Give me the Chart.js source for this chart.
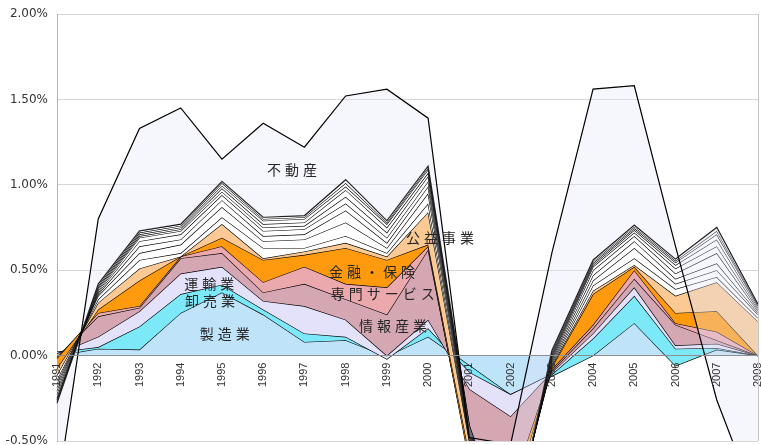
<!DOCTYPE html>
<html>
<head>
<meta charset="utf-8">
<script src="https://cdn.jsdelivr.net/npm/chart.js@4.4.1/dist/chart.umd.min.js"></script>
<style>
  html, body { margin: 0; padding: 0; background: #fff; }
  #wrap { width: 761px; height: 445px; }
</style>
</head>
<body>
<div id="wrap"><canvas id="myChart"></canvas></div>
<script>
// years on the category axis
var years = ['1991', '1992', '1993', '1994', '1995', '1996', '1997', '1998', '1999',
             '2000', '2001', '2002', '2003', '2004', '2005', '2006', '2007', '2008'];

// contribution of each industry (% points), stacked bottom to top
var seizo   = [0.00, 0.04, 0.035, 0.25, 0.37, 0.24, 0.08, 0.09, -0.005, 0.11, -0.06, -0.23, -0.12, 0.00, 0.19, -0.06, 0.035, 0.00]; // 製造業
var oroshi  = [0.02, 0.01, 0.135, 0.11, 0.045, 0.03, 0.05, 0.02, -0.015, 0.05, -0.04, 0.00, 0.01, 0.10, 0.16, 0.10, 0.01, 0.00];  // 卸売業
var unyu    = [-0.01, 0.06, 0.09, 0.12, 0.105, 0.05, 0.16, 0.10, 0.02, 0.05, -0.10, -0.13, 0.01, 0.03, 0.05, 0.02, 0.025, 0.00];  // 運輸業
var joho    = [-0.02, 0.12, 0.02, 0.09, 0.08, 0.05, 0.13, 0.12, 0.24, 0.41, -0.40, -0.44, 0.01, 0.03, 0.05, 0.12, 0.02, 0.00];    // 情報産業
var senmon  = [-0.01, 0.02, 0.01, 0.01, 0.04, 0.06, 0.10, 0.09, 0.16, 0.02, -0.02, 0.00, 0.01, 0.02, 0.05, 0.01, 0.05, 0.00];    // 専門サービス
var kinyu   = [-0.06, 0.02, 0.15, 0.00, 0.05, 0.13, 0.07, 0.21, 0.16, 0.01, 0.04, -0.10, 0.01, 0.18, 0.02, 0.06, 0.12, 0.00];    // 金融・保険
var koeki   = [-0.04, 0.04, 0.07, 0.00, 0.08, 0.01, 0.02, 0.03, 0.02, 0.19, 0.08, -0.10, 0.01, 0.02, 0.01, 0.10, 0.17, 0.20];    // 公益事業
// unlabelled industries (white bands)
var other1  = [-0.03, 0.02, 0.05, 0.02, 0.04, 0.06, 0.02, 0.04, 0.02, 0.05, 0.01, -0.02, 0.01, 0.03, 0.04, 0.04, 0.03, 0.02];
var other2  = [-0.02, 0.02, 0.04, 0.05, 0.06, 0.04, 0.05, 0.08, 0.03, 0.06, 0.01, -0.01, 0.01, 0.03, 0.06, 0.03, 0.04, 0.02];
var other3  = [-0.02, 0.01, 0.04, 0.03, 0.04, 0.03, 0.03, 0.07, 0.03, 0.04, 0.01, -0.01, 0.01, 0.03, 0.04, 0.03, 0.04, 0.01];
var other4  = [-0.02, 0.01, 0.03, 0.03, 0.03, 0.03, 0.03, 0.04, 0.03, 0.03, 0.01, -0.01, 0.01, 0.03, 0.03, 0.03, 0.06, 0.01];
var other5  = [-0.02, 0.01, 0.02, 0.02, 0.02, 0.02, 0.02, 0.04, 0.03, 0.03, 0.01, -0.01, 0.01, 0.02, 0.02, 0.03, 0.04, 0.01];
var other6  = [-0.02, 0.01, 0.01, 0.01, 0.02, 0.02, 0.02, 0.04, 0.03, 0.02, 0.01, -0.01, 0.01, 0.01, 0.015, 0.02, 0.04, 0.01];
var other7  = [-0.01, 0.01, 0.01, 0.01, 0.015, 0.02, 0.02, 0.02, 0.02, 0.02, 0.01, -0.01, 0.01, 0.01, 0.01, 0.015, 0.03, 0.01];
var other8  = [-0.01, 0.01, 0.01, 0.01, 0.015, 0.01, 0.01, 0.02, 0.01, 0.01, 0.01, -0.01, 0.01, 0.01, 0.01, 0.01, 0.02, 0.005];
var other9  = [-0.01, 0.01, 0.01, 0.01, 0.01, 0.01, 0.01, 0.02, 0.01, 0.01, 0.01, -0.01, 0.01, 0.01, 0.01, 0.01, 0.02, 0.005];
var fudosan = [-0.53, 0.38, 0.60, 0.68, 0.13, 0.55, 0.40, 0.49, 0.77, 0.28, -0.07, 0.58, 0.57, 1.00, 0.815, 0.075, -1.01, -1.19]; // 不動産

var yTicks = [-0.5, 0, 0.5, 1.0, 1.5, 2.0];

// text written inside the areas (x = year index, y = value)
var areaLabels = [
  { text: '不動産', x: 5.70, y: 1.09 },
  { text: '公益事業', x: 9.29, y: 0.69 },
  { text: '金融・保険', x: 7.64, y: 0.49 },
  { text: '専門サービス', x: 7.90, y: 0.36 },
  { text: '情報産業', x: 8.15, y: 0.175 },
  { text: '運輸業', x: 3.69, y: 0.42 },
  { text: '卸売業', x: 3.71, y: 0.32 },
  { text: '製造業', x: 4.07, y: 0.13 }
];

var series = [
  ['製造業', seizo, '#bfe3f9'],
  ['卸売業', oroshi, '#7de8f8'],
  ['運輸業', unyu, '#e4e2fa'],
  ['情報産業', joho, '#d4a7b3'],
  ['専門サービス', senmon, '#eba9ae'],
  ['金融・保険', kinyu, '#ff9a0e'],
  ['公益事業', koeki, '#fbc993'],
  ['other1', other1, '#ffffff'],
  ['other2', other2, '#ffffff'],
  ['other3', other3, '#ffffff'],
  ['other4', other4, '#ffffff'],
  ['other5', other5, '#ffffff'],
  ['other6', other6, '#ffffff'],
  ['other7', other7, '#ffffff'],
  ['other8', other8, '#ffffff'],
  ['other9', other9, '#ffffff'],
  ['不動産', fudosan, 'rgba(226,226,250,0.32)']
];

// running totals, so the first series is drawn first and the last one ends on top
var running = years.map(() => 0);
var datasets = series.map((s, i) => {
  running = running.map((v, k) => v + s[1][k]);
  return {
    label: s[0],
    data: running.slice(),
    backgroundColor: s[2],
    borderColor: '#000',
    borderWidth: 1.2,
    pointRadius: 0,
    tension: 0,
    order: series.length - i,
    fill: i == 0 ? 'origin' : '-1'
  };
});

var labelPlugin = {
  id: 'areaLabels',
  afterDatasetsDraw: chart => {
    var ctx = chart.ctx;
    var xs = chart.scales.x;
    var ys = chart.scales.y;
    ctx.save();
    ctx.font = '14px "Noto Sans CJK JP"';
    ctx.fillStyle = '#262626';
    ctx.textBaseline = 'middle';
    ctx.textAlign = 'left';
    areaLabels.forEach(l => {
      var chars = Array.from(l.text);
      var adv = chars.map(c => ctx.measureText(c).width + 4);
      var total = adv.reduce((a, b) => a + b, 0) - 4;
      var px = xs.getPixelForValue(l.x) - total / 2;
      var py = ys.getPixelForValue(l.y);
      chars.forEach((c, k) => {
        ctx.fillText(c, px, py);
        px += adv[k];
      });
    });
    ctx.restore();
  }
};

var framePlugin = {
  id: 'frame',
  afterDraw: chart => {
    var a = chart.chartArea;
    var ctx = chart.ctx;
    ctx.save();
    ctx.strokeStyle = '#c8c8c8';
    ctx.lineWidth = 1;
    ctx.beginPath();
    ctx.moveTo(a.right + 0.5, a.top);
    ctx.lineTo(a.right + 0.5, a.bottom);
    ctx.stroke();
    ctx.restore();
  }
};

new Chart('myChart', {
  type: 'line',
  data: { labels: years, datasets: datasets },
  plugins: [labelPlugin, framePlugin],
  options: {
    responsive: true,
    maintainAspectRatio: false,
    animation: false,
    layout: { padding: { left: 0, right: 3, top: 14, bottom: 4 } },
    plugins: { legend: { display: false }, tooltip: { enabled: false } },
    scales: {
      x: {
        type: 'category',
        position: { y: 0 },
        offset: false,
        grid: { display: false, drawTicks: false },
        border: { display: true, color: '#8f8f8f', z: 1 },
        ticks: {
          z: 1,
          autoSkip: false,
          minRotation: 90,
          maxRotation: 90,
          padding: 7,
          color: '#333',
          font: { family: '"Liberation Sans Narrow", "Liberation Sans", sans-serif', size: 11 }
        },
        afterFit: s => { s.paddingLeft = 0; s.paddingRight = 0; }
      },
      y: {
        min: -0.5,
        max: 2.0,
        grid: { color: '#d6d6d6', drawTicks: false },
        border: { display: true, color: '#b4b4b4' },
        afterBuildTicks: s => { s.ticks = yTicks.map(v => ({ value: v })); },
        ticks: {
          padding: 9,
          color: '#333',
          font: { family: '"DejaVu Sans", sans-serif', size: 12 },
          callback: v => v.toFixed(2) + '%'
        },
        afterFit: s => { s.width = 57; s.paddingTop = 0; s.paddingBottom = 0; }
      }
    }
  }
});
</script>
</body>
</html>
